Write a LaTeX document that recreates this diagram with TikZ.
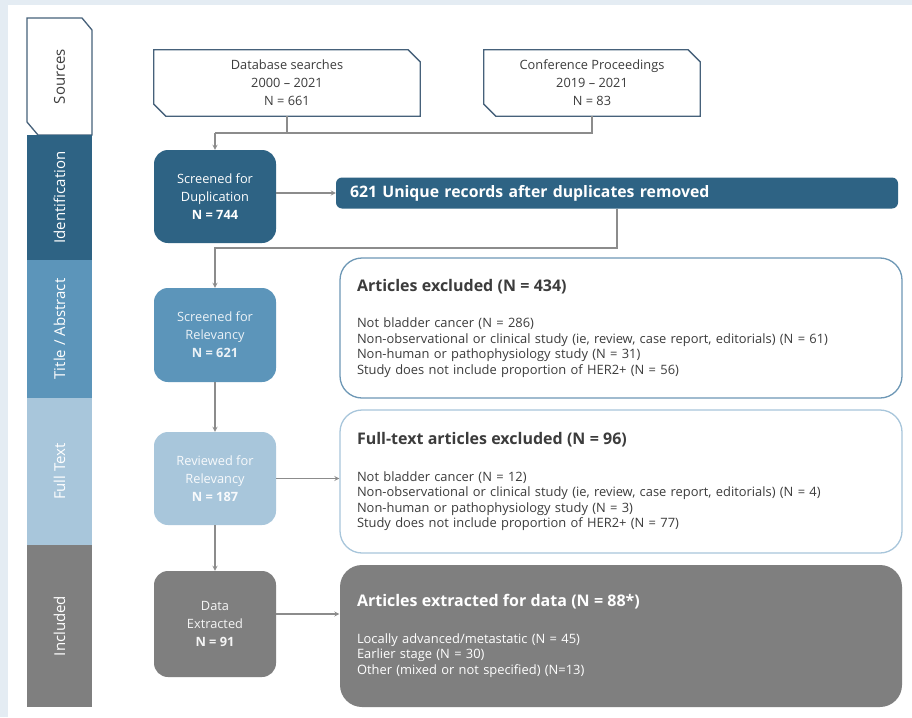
\documentclass[tikz,border=0pt]{standalone}
\usepackage{fontspec}
\setmainfont{Open Sans}
\usepackage{tikz}
\usetikzlibrary{arrows,calc,positioning}

\definecolor{framebg}{HTML}{E4ECF3}
\definecolor{iddark}{HTML}{2E6384}
\definecolor{tamid}{HTML}{5C95BA}
\definecolor{ftlight}{HTML}{A8C6DB}
\definecolor{incgray}{HTML}{7F7F7F}
\definecolor{srcline}{HTML}{46617A}
\definecolor{exline}{HTML}{6E98B6}
\definecolor{linkgray}{HTML}{8C8C8C}
\definecolor{txtdark}{HTML}{3C3C3C}

\newcommand\listfont{\fontsize{12.9}{15.5}\selectfont}
\newcommand\headfont{\fontsize{16}{18}\selectfont\bfseries}
\newcommand\boxfont{\fontsize{12.8}{18}\selectfont}

\begin{document}
\begin{tikzpicture}[x=1pt,y=-1pt,>=stealth,
      bar/.style={rectangle,rotate=90,minimum height=65pt,inner sep=0pt,text=white,font=\fontsize{15}{18}\selectfont},
      srcbox/.style={rectangle,inner sep=0pt,text=txtdark,align=center,font=\boxfont},
      stage/.style={rectangle,rounded corners=14pt,minimum width=122pt,inner sep=0pt,align=center,font=\boxfont},
      outbox/.style={rectangle,rounded corners=22pt,minimum width=562pt,line width=1.3pt,inner sep=0pt,
        text width=528pt,align=left,font=\listfont},
      link/.style={draw=linkgray,line width=1.2pt}]
  \useasboundingbox (0,0) rectangle (912,717);
  \fill[framebg] (0,0) rectangle (912,717);
  \fill[white] (8,5) rectangle (912,717);

  % side bar
  \draw[srcline,line width=1.3pt,fill=white] (27,18) -- (82,18) -- (92,30) -- (92,135) -- (38,135) -- (27,122) -- cycle;
  \node[bar,text=txtdark] (src) at (59.5,76.5) {Sources};
  \node[bar,fill=iddark,minimum width=125pt] (ident) at (59.5,197.5) {Identification};
  \node[bar,fill=tamid,minimum width=138pt] (title) at (59.5,329) {Title / Abstract};
  \node[bar,fill=ftlight,minimum width=147pt] (full) at (59.5,471.5) {Full Text};
  \node[bar,fill=incgray,minimum width=162pt] (incl) at (59.5,626) {Included};

  % sources
  \node[srcbox,minimum width=266pt,minimum height=66pt] (db) at (287,83)
    {Database searches\\2000 -- 2021\\N = 661};
  \node[srcbox,minimum width=216pt,minimum height=66pt] (conf) at (592,83)
    {Conference Proceedings\\2019 -- 2021\\N = 83};
  \foreach \b in {db,conf}
    \draw[srcline,line width=1.3pt] (\b.north west) -- ($(\b.north east)+(-12,0)$) -- ($(\b.north east)+(0,12)$)
      -- (\b.south east) -- ($(\b.south west)+(12,0)$) -- ($(\b.south west)+(0,-12)$) -- cycle;

  % stages
  \node[stage,fill=iddark,text=white,minimum height=93pt] (dup) at (215,196.5)
    {Screened for\\Duplication\\\textbf{N = 744}};
  \node[rectangle,rounded corners=6pt,fill=iddark,text=white,minimum width=562pt,minimum height=31pt,
    text width=534pt,inner sep=0pt,font=\fontsize{15.8}{18}\selectfont\bfseries] (uniq) at (617,193)
    {621 Unique records after duplicates removed};
  \node[stage,fill=tamid,text=white!88!tamid,minimum height=94pt] (relev) at (215,335)
    {Screened for\\Relevancy\\\textbf{N = 621}};
  \node[stage,fill=ftlight,text=white!92!ftlight,minimum height=93pt] (review) at (215,478.5)
    {Reviewed for\\Relevancy\\\textbf{N = 187}};
  \node[stage,fill=incgray,text=white!92!incgray,minimum height=106pt] (data) at (215,624)
    {Data\\Extracted\\\textbf{N = 91}};

  % outcomes
  \node[outbox,draw=exline,fill=white,text=txtdark,minimum height=140pt] (excl) at (621,328)
    {{\headfont Articles excluded (N = 434)}\\[21pt]
     Not bladder cancer (N = 286)\\
     Non-observational or clinical study (ie, review, case report, editorials) (N = 61)\\
     Non-human or pathophysiology study (N = 31)\\
     Study does not include proportion of HER2+ (N = 56)};
  \node[outbox,draw=ftlight,fill=white,text=txtdark,minimum height=143pt] (ftexcl) at (621,481.5)
    {{\headfont Full-text articles excluded (N = 96)}\\[21pt]
     Not bladder cancer (N = 12)\\
     Non-observational or clinical study (ie, review, case report, editorials) (N = 4)\\
     Non-human or pathophysiology study (N = 3)\\
     Study does not include proportion of HER2+ (N = 77)};
  \node[outbox,fill=incgray,text=white,minimum height=142pt] (extr) at (621,636)
    {{\headfont Articles extracted for data (N = 88*)}\\[21pt]
     Locally advanced/metastatic (N = 45)\\
     Earlier stage (N = 30)\\
     Other (mixed or not specified) (N=13)};

  % connectors
  \coordinate (jl) at (215,133);
  \coordinate (jr) at (conf.south |- jl);
  \draw[link] (db.south) -- (db.south |- jl);
  \draw[link] (conf.south) -- (jr) -- (jl);
  \draw[link,->] (jl) -- (dup.north);
  \draw[link,->] (dup.east |- uniq.west) -- (uniq.west);
  \coordinate (ju) at (617,248);
  \draw[link,->] (uniq.south -| ju) -- (ju) -- (ju -| relev.north) -- (relev.north);
  \draw[link,->] (relev.south) -- (review.north);
  \draw[link,->] (review.south) -- (data.north);
  \draw[link,->] (review.east) -- (review.east -| ftexcl.west);
  \coordinate (dx) at ($(data.east)+(0,-10)$);
  \draw[link,->] (dx) -- (dx -| extr.west);
\end{tikzpicture}
\end{document}
